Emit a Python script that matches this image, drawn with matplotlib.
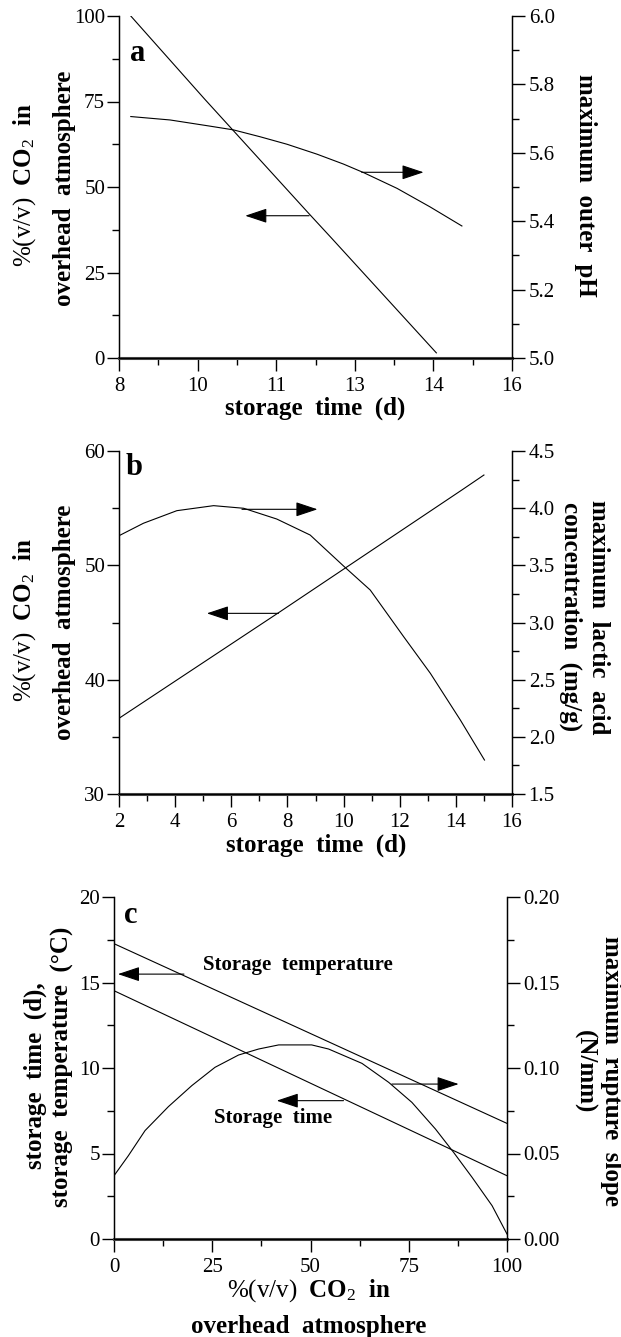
import numpy as np
import matplotlib
matplotlib.use('Agg')
import matplotlib.pyplot as plt
from matplotlib.ticker import FixedLocator, MultipleLocator, FormatStrFormatter

plt.rcParams['font.family'] = ['Liberation Serif', 'DejaVu Serif']
plt.rcParams['mathtext.fontset'] = 'custom'
plt.rcParams['mathtext.rm'] = 'Liberation Serif'
plt.rcParams['mathtext.it'] = 'Liberation Serif:italic'
plt.rcParams['mathtext.bf'] = 'Liberation Serif:bold'

# panel a: CO2 vs storage time, max outer pH
a_time_co2 = [8.24, 9.75, 11.88, 12.33, 14.46]
a_co2 = [100.0, 75.6, 42.0, 35.0, 1.5]
a_time_ph = [8.24, 9.04, 9.85, 10.33, 10.87, 11.42, 12.03, 12.57, 12.98, 13.66, 14.33, 14.98]
a_ph = [5.706, 5.696, 5.678, 5.667, 5.647, 5.625, 5.596, 5.567, 5.542, 5.496, 5.442, 5.386]
a_xticks = [8, 9.6, 11.2, 12.8, 14.4, 16]
a_xticklabels = ['8', '10', '11', '13', '14', '16']

# panel b: CO2 vs storage time, max lactic acid
b_time_co2 = [2.0, 7.68, 14.22, 15.0]
b_co2 = [36.62, 45.85, 56.6, 57.9]
b_time_lac = [2.0, 2.87, 4.06, 5.37, 6.44, 7.62, 8.81, 10.0, 10.95, 12.14, 13.09, 14.16, 15.02]
b_lactic = [3.759, 3.868, 3.978, 4.022, 3.999, 3.905, 3.765, 3.494, 3.284, 2.876, 2.556,
            2.147, 1.797]

# panel c: storage time / temperature and rupture slope vs CO2
c_co2_lin = [0, 100]
c_temp = [17.27, 6.76]
c_stime = [14.52, 3.70]
c_co2_rup = [0, 3.65, 7.9, 13.84, 19.8, 25.7, 31.7, 36.8, 41.9, 50.3, 54.6, 63.1, 69.9,
             75.8, 81.8, 86.4, 91.1, 96.2, 100]
c_rupture = [0.0370, 0.0487, 0.0634, 0.0774, 0.0897, 0.1004, 0.1076, 0.1111, 0.1135,
             0.1135, 0.1111, 0.1027, 0.0916, 0.0799, 0.0643, 0.0507, 0.0361, 0.0195,
             0.0029]

W, H = 621, 1337
fig = plt.figure(figsize=(W / 100, H / 100), dpi=100)

TICK_FS = 15
LAB_FS = 18
LW = 0.8


def px(x, y):
    return x / W, 1 - y / H


def setup(ax, ax2):
    for a in (ax, ax2):
        a.spines['top'].set_visible(False)
        a.patch.set_visible(False)
    ax.spines['bottom'].set_linewidth(2.2)
    ax.spines['bottom'].set_color('#444444')
    ax.spines['left'].set_linewidth(1.0)
    ax2.spines['right'].set_linewidth(1.0)
    ax.tick_params(axis='both', which='major', direction='out', length=9, width=1,
                   labelsize=TICK_FS, pad=1)
    ax.tick_params(axis='both', which='minor', direction='out', length=5, width=1)
    ax.tick_params(axis='x', pad=5)
    ax2.tick_params(axis='y', which='major', direction='out', length=9, width=1,
                    labelsize=TICK_FS, pad=3)
    ax2.tick_params(axis='y', which='minor', direction='out', length=5, width=1)


def arrow(ax, tail, tip):
    ax.annotate('', xy=tip, xytext=tail,
                arrowprops=dict(arrowstyle='-|>,head_length=1.35,head_width=0.45',
                                mutation_scale=10, lw=LW, color='black',
                                shrinkA=0, shrinkB=0))


co2_line = r'$\mathrm{\%(v/v)}$  CO$_2$  in'

# ---------- panel a ----------
ax = fig.add_axes([119 / W, 1 - 358 / H, 393 / W, 342 / H])
ax2 = ax.twinx()
setup(ax, ax2)
ax.plot(a_time_co2, a_co2, color='black', lw=LW)
ax2.plot(a_time_ph, a_ph, color='black', lw=LW)
ax.set_xlim(8, 16)
ax.set_ylim(0, 100)
ax2.set_ylim(5.0, 6.0)
ax.xaxis.set_major_locator(FixedLocator(a_xticks))
ax.set_xticklabels(a_xticklabels)
ax.xaxis.set_minor_locator(FixedLocator([8.8, 10.4, 12.0, 13.6, 15.2]))
ax.yaxis.set_major_locator(MultipleLocator(25))
ax.yaxis.set_minor_locator(MultipleLocator(12.5))
ax2.yaxis.set_major_locator(MultipleLocator(0.2))
ax2.yaxis.set_minor_locator(MultipleLocator(0.1))
ax2.yaxis.set_major_formatter(FormatStrFormatter('%.1f'))
arrow(ax, (12.94, 54.3), (14.2, 54.3))
arrow(ax, (11.87, 41.6), (10.57, 41.6))
ax.text(0.048, 0.891, 'a', transform=ax.transAxes, fontsize=22, fontweight='bold',
        ha='center', va='center')
fig.text(*px(25, 185), co2_line, rotation=90, fontsize=LAB_FS, fontweight='bold',
         ha='center', va='center')
fig.text(*px(65, 188), 'overhead  atmosphere', rotation=90, fontsize=LAB_FS,
         fontweight='bold', ha='center', va='center')
fig.text(*px(585, 185), 'maximum  outer  pH', rotation=-90, fontsize=LAB_FS,
         fontweight='bold', ha='center', va='center')
fig.text(*px(315, 408), 'storage  time  (d)', fontsize=LAB_FS, fontweight='bold',
         ha='center', va='center')

# ---------- panel b ----------
ax = fig.add_axes([119 / W, 1 - 794 / H, 393 / W, 343 / H])
ax2 = ax.twinx()
setup(ax, ax2)
ax.plot(b_time_co2, b_co2, color='black', lw=LW)
ax2.plot(b_time_lac, b_lactic, color='black', lw=LW)
ax.set_xlim(2, 16)
ax.set_ylim(30, 60)
ax2.set_ylim(1.5, 4.5)
ax.xaxis.set_major_locator(MultipleLocator(2))
ax.xaxis.set_minor_locator(MultipleLocator(1))
ax.yaxis.set_major_locator(MultipleLocator(10))
ax.yaxis.set_minor_locator(MultipleLocator(5))
ax2.yaxis.set_major_locator(MultipleLocator(0.5))
ax2.yaxis.set_minor_locator(MultipleLocator(0.25))
ax2.yaxis.set_major_formatter(FormatStrFormatter('%.1f'))
arrow(ax, (6.38, 54.9), (9.07, 54.9))
arrow(ax, (7.68, 45.8), (5.13, 45.8))
ax.text(0.038, 0.953, 'b', transform=ax.transAxes, fontsize=22, fontweight='bold',
        ha='center', va='center')
fig.text(*px(25, 620), co2_line, rotation=90, fontsize=LAB_FS, fontweight='bold',
         ha='center', va='center')
fig.text(*px(65, 622), 'overhead  atmosphere', rotation=90, fontsize=LAB_FS,
         fontweight='bold', ha='center', va='center')
fig.text(*px(599, 617), 'maximum  lactic  acid', rotation=-90, fontsize=LAB_FS,
         fontweight='bold', ha='center', va='center')
fig.text(*px(571, 617), 'concentration  (mg/g)', rotation=-90, fontsize=LAB_FS,
         fontweight='bold', ha='center', va='center')
fig.text(*px(316, 845), 'storage  time  (d)', fontsize=LAB_FS, fontweight='bold',
         ha='center', va='center')

# ---------- panel c ----------
ax = fig.add_axes([114 / W, 1 - 1239 / H, 393 / W, 342 / H])
ax2 = ax.twinx()
setup(ax, ax2)
ax.plot(c_co2_lin, c_temp, color='black', lw=LW)
ax.plot(c_co2_lin, c_stime, color='black', lw=LW)
ax2.plot(c_co2_rup, c_rupture, color='black', lw=LW)
ax.set_xlim(0, 100)
ax.set_ylim(0, 20)
ax2.set_ylim(0, 0.2)
ax.xaxis.set_major_locator(MultipleLocator(25))
ax.xaxis.set_minor_locator(MultipleLocator(12.5))
ax.yaxis.set_major_locator(MultipleLocator(5))
ax.yaxis.set_minor_locator(MultipleLocator(2.5))
ax2.yaxis.set_major_locator(MultipleLocator(0.05))
ax2.yaxis.set_minor_locator(MultipleLocator(0.025))
ax2.yaxis.set_major_formatter(FormatStrFormatter('%.2f'))
arrow(ax, (17.8, 15.49), (1.0, 15.49))
arrow(ax, (58.4, 8.09), (41.4, 8.09))
arrow(ax, (70.7, 9.06), (87.7, 9.06))
ax.text(46.7, 16.0, 'Storage  temperature', fontsize=15, fontweight='bold',
        ha='center', va='center')
ax.text(40.6, 7.08, 'Storage  time', fontsize=15, fontweight='bold',
        ha='center', va='center')
ax.text(0.042, 0.946, 'c', transform=ax.transAxes, fontsize=22, fontweight='bold',
        ha='center', va='center')
fig.text(*px(35, 1076), 'storage  time  (d),', rotation=90, fontsize=LAB_FS,
         fontweight='bold', ha='center', va='center')
fig.text(*px(62, 1067), u'storage  temperature  (\u00b0C)', rotation=90, fontsize=LAB_FS,
         fontweight='bold', ha='center', va='center')
fig.text(*px(611, 1071), 'maximum  rupture  slope', rotation=-90, fontsize=LAB_FS,
         fontweight='bold', ha='center', va='center')
fig.text(*px(584, 1072), '(N/mm)', rotation=-90, fontsize=LAB_FS,
         fontweight='bold', ha='center', va='center')
fig.text(*px(309, 1291), co2_line, fontsize=LAB_FS, fontweight='bold',
         ha='center', va='center')
fig.text(*px(309, 1327), 'overhead  atmosphere', fontsize=LAB_FS, fontweight='bold',
         ha='center', va='center')

fig.savefig('out.png', dpi=100)
